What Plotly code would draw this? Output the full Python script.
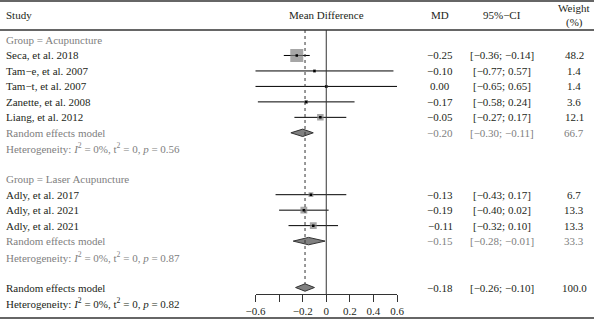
import plotly.graph_objects as go
import math

# ---------------- data ----------------
studies1 = ["Seca, et al. 2018", "Tam−e, et al. 2007", "Tam−t, et al. 2007",
            "Zanette, et al. 2008", "Liang, et al. 2012"]
md1 = [-0.25, -0.10, 0.00, -0.17, -0.05]
lo1 = [-0.36, -0.77, -0.65, -0.58, -0.27]
hi1 = [-0.14, 0.57, 0.65, 0.24, 0.17]
w1 = [48.2, 1.4, 1.4, 3.6, 12.1]

studies2 = ["Adly, et al. 2017", "Adly, et al. 2021", "Adly, et al. 2021"]
md2 = [-0.13, -0.19, -0.11]
lo2 = [-0.43, -0.40, -0.32]
hi2 = [0.17, 0.02, 0.10]
w2 = [6.7, 13.3, 13.3]

group_names = ["Group = Acupuncture", "Group = Laser Acupuncture"]
re_md = [-0.20, -0.15]
re_lo = [-0.30, -0.28]
re_hi = [-0.11, -0.01]
re_w = [66.7, 33.3]
het_p = [0.56, 0.87]

overall_md = -0.18
overall_lo = -0.26
overall_hi = -0.10
overall_w = 100.0
overall_p = 0.82

tick_vals = [-0.6, -0.4, -0.2, 0, 0.2, 0.4, 0.6]
tick_text = ["−0.6", "", "−0.2", "0", "0.2", "0.4", "0.6"]

# ---------------- layout constants ----------------
W, H = 594, 320
ROW0_PX = 40.0
ROW_PX = 15.47
def row_of_px(px):
    return (px - ROW0_PX) / ROW_PX

FONT = "Liberation Serif"
FS = 11
BLACK = "#231f20"
GRAY = "#808080"
LINE = "#333333"

def fmt(v, nd=2):
    s = f"{v:.{nd}f}"
    return s.replace("-", "−")

def ci(lo, hi):
    return f"[{fmt(lo)}; {fmt(hi)}]"

X_STUDY = 5 / W
X_MD = 440 / W
X_CI = 502 / W
X_W = 574 / W

fig = go.Figure()
ann = []

def text(x, y, s, color=BLACK, anchor="center"):
    ann.append(dict(x=x, y=y, xref="paper", yref="y", text=s, showarrow=False,
                    xanchor=anchor, yanchor="middle", borderpad=0,
                    font=dict(family=FONT, size=FS, color=color)))

# rows
g1_rows = [1, 2, 3, 4, 5]
g2_rows = [10, 11, 12]
re_rows = [6, 13]
het_rows = [7, 14]
grp_rows = [0, 9]
ov_row = 16
ovhet_row = 17

# headers
hy = row_of_px(15)
text(X_STUDY, hy, "Study", anchor="left")
text(326 / W, hy, "Mean Difference")
text(X_MD, hy, "MD")
text(X_CI, hy, "95%−CI")
text(X_W, row_of_px(8), "Weight")
text(X_W, row_of_px(22), "(%)")

all_names = studies1 + studies2
all_md = md1 + md2
all_lo = lo1 + lo2
all_hi = hi1 + hi2
all_w = w1 + w2
all_rows = g1_rows + g2_rows

for name, m, l, h, w, r in zip(all_names, all_md, all_lo, all_hi, all_w, all_rows):
    text(X_STUDY, r, name, anchor="left")
    text(X_MD, r, fmt(m))
    text(X_CI, r, ci(l, h))
    text(X_W, r, fmt(w, 1))

for gi in range(2):
    text(X_STUDY, grp_rows[gi], group_names[gi], color=GRAY, anchor="left")
    text(X_STUDY, re_rows[gi], "Random effects model", color=GRAY, anchor="left")
    text(X_MD, re_rows[gi], fmt(re_md[gi]), color=GRAY)
    text(X_CI, re_rows[gi], ci(re_lo[gi], re_hi[gi]), color=GRAY)
    text(X_W, re_rows[gi], fmt(re_w[gi], 1), color=GRAY)
    text(X_STUDY, het_rows[gi],
         f"Heterogeneity: <i>I</i><sup>2</sup> = 0%, t<sup>2</sup> = 0, <i>p</i> = {het_p[gi]:.2f}",
         color=GRAY, anchor="left")

text(X_STUDY, ov_row, "Random effects model", anchor="left")
text(X_MD, ov_row, fmt(overall_md))
text(X_CI, ov_row, ci(overall_lo, overall_hi))
text(X_W, ov_row, fmt(overall_w, 1))
text(X_STUDY, ovhet_row,
     f"Heterogeneity: <i>I</i><sup>2</sup> = 0%, t<sup>2</sup> = 0, <i>p</i> = {overall_p:.2f}",
     anchor="left")

# CI lines via error bars
fig.add_trace(go.Scatter(
    x=all_md, y=all_rows, mode="markers",
    marker=dict(size=0.1, color="rgba(0,0,0,0)"),
    error_x=dict(type="data", symmetric=False,
                 array=[h - m for m, h in zip(all_md, all_hi)],
                 arrayminus=[m - l for m, l in zip(all_md, all_lo)],
                 color="black", thickness=1, width=0),
    hoverinfo="skip", showlegend=False))

# squares (area ~ weight)
sizes = [max(3, 13 * math.sqrt(w / 48.2)) for w in all_w]
fig.add_trace(go.Scatter(
    x=all_md, y=all_rows, mode="markers",
    marker=dict(symbol="square", size=sizes, color=GRAY, line=dict(width=0)),
    hoverinfo="skip", showlegend=False))
# central dots
fig.add_trace(go.Scatter(
    x=all_md, y=all_rows, mode="markers",
    marker=dict(symbol="square", size=2.5, color="black"),
    hoverinfo="skip", showlegend=False))

# diamonds
dh = 0.24
for m, l, h, r in zip(re_md + [overall_md], re_lo + [overall_lo], re_hi + [overall_hi],
                      re_rows + [ov_row]):
    fig.add_trace(go.Scatter(
        x=[l, m, h, m, l], y=[r, r - dh, r, r + dh, r], mode="lines",
        fill="toself", fillcolor=GRAY, line=dict(color=LINE, width=1),
        hoverinfo="skip", showlegend=False))

axis_px = 294
shapes = []
# zero line
shapes.append(dict(type="line", xref="x", yref="y", x0=0, x1=0,
                   y0=row_of_px(30), y1=row_of_px(axis_px),
                   line=dict(color=LINE, width=1)))
# dotted overall line
shapes.append(dict(type="line", xref="x", yref="y", x0=overall_md, x1=overall_md,
                   y0=row_of_px(30), y1=ov_row - dh,
                   line=dict(color=LINE, width=1, dash="dot")))
# horizontal rules
for py in [1, 30, 318]:
    shapes.append(dict(type="line", xref="paper", yref="y", x0=0, x1=1,
                       y0=row_of_px(py), y1=row_of_px(py),
                       line=dict(color=LINE, width=1.5)))

fig.update_layout(
    width=W, height=H, margin=dict(l=0, r=0, t=0, b=0, pad=0, autoexpand=False),
    paper_bgcolor="white", plot_bgcolor="white",
    annotations=ann, shapes=shapes,
    xaxis=dict(domain=[255.5 / W, 397 / W], range=[-0.6, 0.6],
               anchor="free", position=1 - axis_px / H, automargin=False,
               showline=True, linecolor=LINE, linewidth=1,
               ticks="outside", ticklen=7, tickcolor=LINE, tickwidth=1,
               tickvals=tick_vals, ticktext=tick_text,
               tickfont=dict(family=FONT, size=FS, color=BLACK),
               showgrid=False, zeroline=False, fixedrange=True),
    yaxis=dict(domain=[0, 1], range=[row_of_px(H), row_of_px(0)], automargin=False,
               visible=False, showgrid=False, zeroline=False, fixedrange=True),
)

fig.write_html("out.html", config={"displayModeBar": False},
               post_script="document.body.style.margin='0';document.body.style.padding='0';")
